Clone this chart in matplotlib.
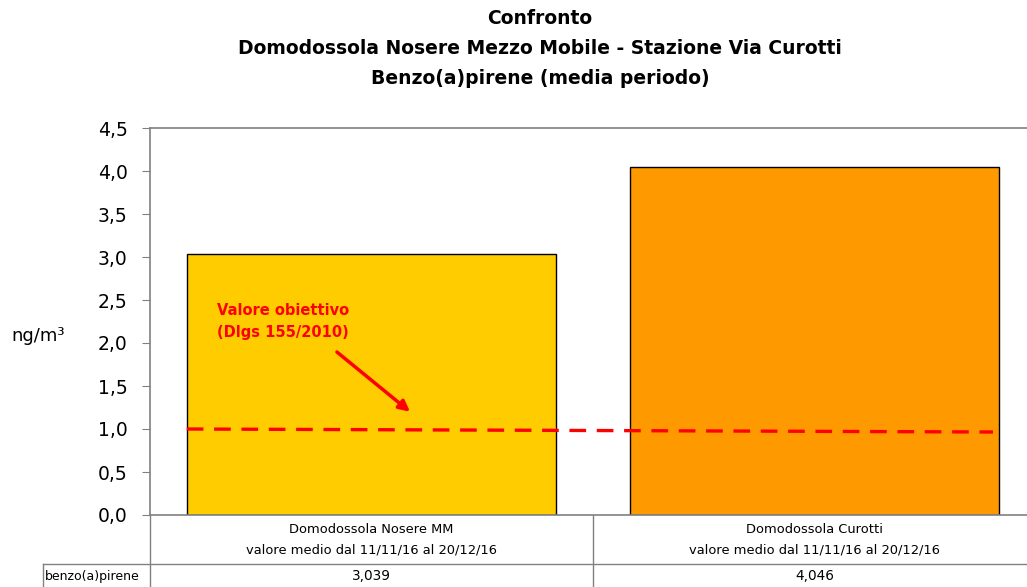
import numpy as np
import matplotlib.pyplot as plt
from matplotlib.lines import Line2D

# data
stations = ["Domodossola Nosere MM\nvalore medio dal 11/11/16 al 20/12/16",
            "Domodossola Curotti\nvalore medio dal 11/11/16 al 20/12/16"]
values = [3.039, 4.046]
value_labels = ["3,039", "4,046"]
row_label = "benzo(a)pirene"
bar_colors = ["#FFCC00", "#FF9900"]
# hand-drawn target line (start / end of the dashed line)
target_x = [-0.417, 1.403]
target_y = [1.0, 0.965]
yticks = [0, 0.5, 1.0, 1.5, 2.0, 2.5, 3.0, 3.5, 4.0, 4.5]

W, H = 1027, 587
fig = plt.figure(figsize=(W / 100, H / 100), dpi=100)
ax = fig.add_axes([150 / W, (H - 515) / H, (1036 - 150) / W, (515 - 128) / H])

x = np.arange(len(values))
ax.bar(x, values, width=0.833, color=bar_colors, edgecolor="black", linewidth=1.0, zorder=2)
ax.plot(target_x, target_y, color="#FF0000", lw=2.4, dashes=(5, 3.2), zorder=3)

ax.set_xlim(-0.5, 1.5)
ax.set_ylim(0, 4.5)
ax.set_yticks(yticks)
ax.set_yticklabels([f"{v:.1f}".replace(".", ",") for v in yticks], fontsize=13.5)
ax.tick_params(axis="y", direction="out", length=6, color="#808080", pad=10)
ax.set_xticks([])
for side in ["left", "top", "right", "bottom"]:
    ax.spines[side].set_color("#808080")
    ax.spines[side].set_linewidth(1.2)

# annotation
ax.text(-0.349, 2.25, "Valore obiettivo\n(Dlgs 155/2010)", color="#FF0000",
        fontsize=10.5, fontweight="bold", va="center", ha="left", linespacing=1.6)
ax.annotate("", xy=(0.087, 1.2), xytext=(-0.078, 1.895),
            arrowprops=dict(arrowstyle="-|>", color="#FF0000", lw=2.5,
                            mutation_scale=16, shrinkA=0, shrinkB=0))

# data table below the plot
tr = ax.get_xaxis_transform()
gray = "#808080"
for i, name in enumerate(stations):
    ax.text(x[i], -0.064, name, transform=tr, ha="center", va="center",
            fontsize=9.4, linespacing=1.7, clip_on=False)
    ax.text(x[i], -0.158, value_labels[i], transform=tr, ha="center", va="center",
            fontsize=9.8, clip_on=False)
ax.text(-0.5 - 105 / 443, -0.158, row_label, transform=tr, ha="left", va="center",
        fontsize=9, clip_on=False)

row_y = -0.1266
left_x = -0.5 - 107 / 443
ax.add_line(Line2D([left_x, 1.6], [row_y, row_y], transform=tr, color=gray, lw=1, clip_on=False))
ax.add_line(Line2D([left_x, left_x], [row_y, -0.2], transform=tr, color=gray, lw=1, clip_on=False))
for xv in [-0.5, 0.5]:
    ax.add_line(Line2D([xv, xv], [0, -0.2], transform=tr, color=gray, lw=1, clip_on=False))

fig.text(38 / W, 1 - 336 / H, "ng/m³", fontsize=13, ha="center", va="center")

titles = ["Confronto", "Domodossola Nosere Mezzo Mobile - Stazione Via Curotti",
          "Benzo(a)pirene (media periodo)"]
for k, t in enumerate(titles):
    fig.text(540 / W, 1 - (18 + 30 * k) / H, t, fontsize=13.5, fontweight="bold",
             ha="center", va="center")

fig.savefig("out.png", dpi=100)
